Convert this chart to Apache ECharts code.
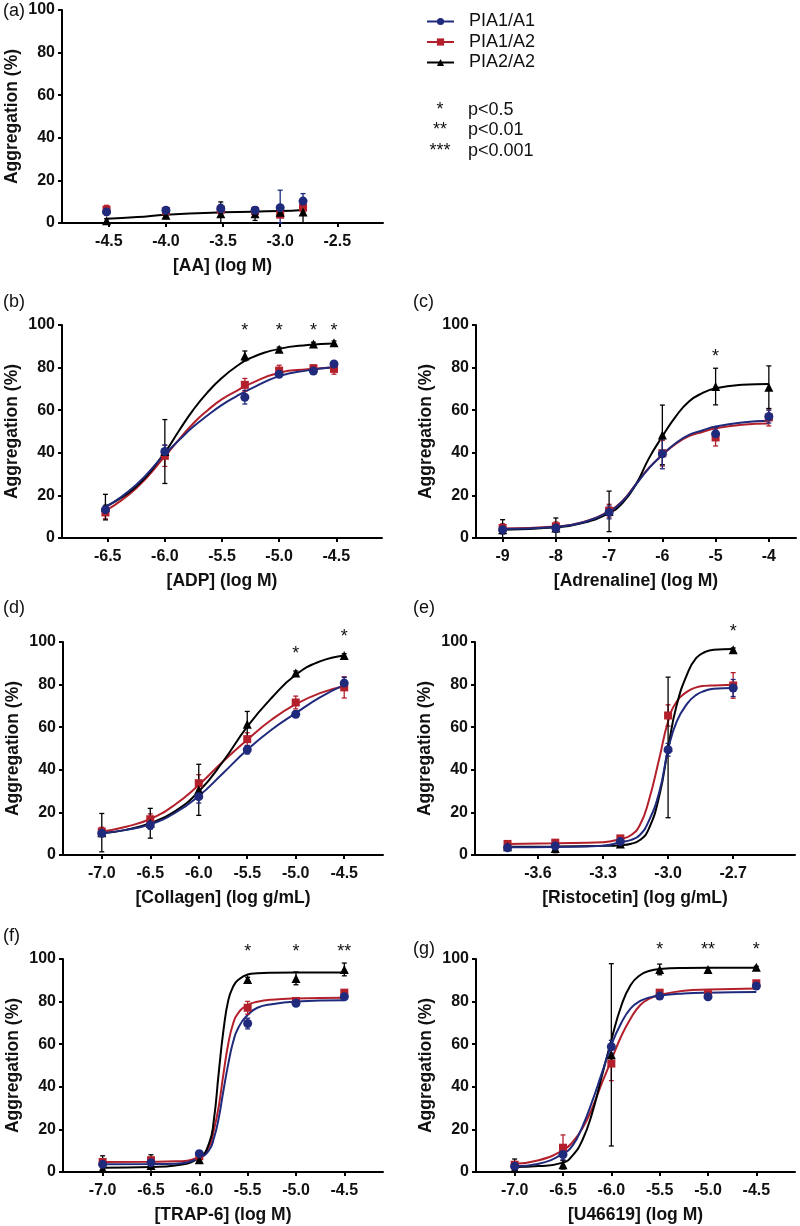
<!DOCTYPE html>
<html><head><meta charset="utf-8">
<script src="https://cdn.jsdelivr.net/npm/echarts@6/dist/echarts.min.js"></script>
<style>html,body{margin:0;padding:0;background:#fff}#chart{width:800px;height:1226px}</style>
</head><body><div id="chart"></div>
<script>
// ---------- DATA ----------
const genotypes = ['PIA1/A1', 'PIA1/A2', 'PIA2/A2'];
const sigSymbols = ['*', '**', '***'];
const sigTexts = ['p<0.5', 'p<0.01', 'p<0.001'];

// (a) AA
const aTicks = [-4.5, -4.0, -3.5, -3.0, -2.5];
const aX = [-4.52, -4.0, -3.52, -3.22, -3.0, -2.8];
const aA1A1 = [5.2, 6.0, 6.7, 6.0, 7.2, 10.3];
const aA1A2 = [6.3, 5.6, 6.3, 5.6, 3.9, 7.2];
const aA2A2 = [1.0, 3.6, 4.4, 4.4, 5.0, 5.2];
const aErrA1A1 = [1.5, 1.0, 2.0, 1.0, 8.2, 3.5];
const aErrA1A2 = [2.0, 1.0, 1.5, 1.5, 1.0, 2.5];
const aErrA2A2 = [1.0, 1.5, 5.5, 3.2, 2.0, 5.2];
const aFitX = [-4.52, -4.25, -4.0, -3.5, -3.0, -2.8];
const aFitA2A2 = [2.0, 2.8, 3.9, 5.0, 5.6, 6.1];
const aStarX = [], aStarY = [], aStars = [];

// (b) ADP
const bTicks = [-6.5, -6.0, -5.5, -5.0, -4.5];
const bX = [-6.52, -6.0, -5.3, -5.0, -4.7, -4.52];
const bA1A1 = [13.3, 40.6, 66.1, 76.9, 78.4, 81.7];
const bA1A2 = [12.0, 38.6, 71.9, 78.6, 79.7, 79.4];
const bA2A2 = [14.5, 40.6, 85.5, 88.6, 91.1, 91.7];
const bErrA1A1 = [2.0, 3.0, 3.2, 1.0, 1.5, 1.0];
const bErrA1A2 = [3.0, 5.0, 3.0, 2.5, 1.5, 2.5];
const bErrA2A2 = [6.0, 15.0, 2.3, 1.0, 0.8, 0.8];
const bFitX = [-6.52, -6.25, -6.0, -5.875, -5.75, -5.625, -5.5, -5.375, -5.25, -5.0, -4.75, -4.52];
const bFitA1A1 = [14.4, 25.0, 39.4, 46.0, 52.3, 57.6, 62.5, 66.5, 70.0, 76.0, 78.7, 80.2];
const bFitA1A2 = [12.8, 23.4, 38.3, 46.3, 53.9, 60.0, 65.2, 69.0, 72.5, 77.6, 79.2, 80.2];
const bFitA2A2 = [14.8, 24.2, 40.2, 50.5, 60.3, 68.5, 75.2, 80.5, 84.5, 88.8, 90.6, 91.3];
const bStarX = [-5.3, -5.0, -4.7, -4.52], bStarY = [99, 99, 99, 99], bStars = ['*', '*', '*', '*'];

// (c) Adrenaline
const cTicks = [-9, -8, -7, -6, -5, -4];
const cX = [-9, -8, -7, -6, -5, -4];
const cA1A1 = [3.9, 4.7, 12.0, 39.5, 48.9, 57.0];
const cA1A2 = [4.7, 5.5, 12.8, 39.8, 47.2, 56.6];
const cA2A2 = [3.9, 4.7, 12.5, 48.4, 71.1, 70.8];
const cErrA1A1 = [2.0, 2.0, 3.0, 7.0, 3.0, 3.0];
const cErrA1A2 = [2.0, 2.0, 3.0, 6.0, 4.0, 4.0];
const cErrA2A2 = [4.7, 4.7, 9.5, 14.0, 8.6, 10.0];
const cFitX = [-9, -8, -7.5, -7, -6.75, -6.5, -6.25, -6, -5.75, -5.5, -5.25, -5, -4.5, -4];
const cFitA1A1 = [4.2, 5.2, 7.3, 12.5, 17.2, 25.0, 32.8, 39.1, 44.5, 48.4, 50.5, 52.3, 54.2, 55.0];
const cFitA1A2 = [4.5, 5.4, 7.4, 12.6, 17.4, 25.2, 33.0, 39.0, 44.2, 47.8, 49.8, 51.5, 53.2, 53.8];
const cFitA2A2 = [3.9, 5.0, 7.0, 11.7, 16.4, 25.0, 37.5, 47.7, 57.0, 64.1, 68.0, 70.3, 71.9, 72.3];
const cStarX = [-5], cStarY = [87], cStars = ['*'];

// (d) Collagen
const dTicks = [-7.0, -6.5, -6.0, -5.5, -5.0, -4.5];
const dX = [-7, -6.5, -6, -5.5, -5, -4.5];
const dA1A1 = [10.2, 14.1, 27.4, 49.4, 66.1, 80.7];
const dA1A2 = [11.0, 16.8, 33.7, 54.4, 71.6, 78.7];
const dA2A2 = [10.5, 14.9, 30.6, 61.4, 85.4, 93.7];
const dErrA1A1 = [1.5, 2.0, 3.0, 2.0, 1.5, 2.7];
const dErrA1A2 = [2.0, 2.5, 4.0, 3.0, 3.0, 5.0];
const dErrA2A2 = [9.0, 7.0, 12.0, 6.0, 1.0, 0.8];
const dFitX = [-7, -6.75, -6.5, -6.25, -6, -5.75, -5.5, -5.25, -5, -4.75, -4.5];
const dFitA1A1 = [10.2, 11.8, 14.4, 19.6, 27.7, 38.4, 49.4, 58.8, 66.6, 74.0, 79.9];
const dFitA1A2 = [11.0, 13.3, 16.9, 23.5, 32.9, 43.9, 54.1, 63.5, 70.8, 76.0, 79.2];
const dFitA2A2 = [10.2, 11.8, 14.9, 20.4, 29.8, 43.9, 60.3, 73.7, 84.6, 90.9, 93.7];
const dStarX = [-5.0, -4.5], dStarY = [96.4, 104.2], dStars = ['*', '*'];

// (e) Ristocetin
const eTicks = [-3.6, -3.3, -3.0, -2.7];
const eX = [-3.74, -3.52, -3.22, -3.0, -2.7];
const eA1A1 = [3.4, 4.2, 6.3, 49.4, 78.4];
const eA1A2 = [5.2, 5.8, 7.8, 65.5, 79.6];
const eA2A2 = [3.9, 3.1, 5.2, 50.5, 96.4];
const eErrA1A1 = [0.8, 1.0, 1.0, 3.0, 4.0];
const eErrA1A2 = [0.8, 1.0, 1.0, 5.0, 6.0];
const eErrA2A2 = [0.8, 2.0, 1.0, 33.0, 0.8];
const eFitX = [-3.74, -3.52, -3.3, -3.22, -3.17, -3.13, -3.09, -3.04, -3.0, -2.96, -2.91, -2.87, -2.83, -2.79, -2.7];
const eFitA1A1 = [3.6, 3.8, 4.4, 6.0, 7.1, 9.4, 15.7, 29.8, 49.4, 62.7, 71.3, 75.2, 77.1, 78.1, 78.4];
const eFitA1A2 = [5.2, 5.5, 6.0, 7.5, 9.4, 14.1, 25.1, 45.5, 62.7, 72.1, 76.8, 78.7, 79.4, 79.6, 79.9];
const eFitA2A2 = [3.9, 4.0, 4.3, 4.6, 5.3, 7.0, 12.0, 28.0, 50.2, 70.5, 85.4, 92.5, 95.3, 96.4, 96.7];
const eStarX = [-2.7], eStarY = [106.6], eStars = ['*'];

// (f) TRAP-6
const fTicks = [-7.0, -6.5, -6.0, -5.5, -5.0, -4.5];
const fX = [-7, -6.5, -6, -5.5, -5, -4.5];
const fA1A1 = [3.6, 4.4, 8.6, 69.7, 79.2, 82.3];
const fA1A2 = [4.7, 5.5, 7.4, 77.1, 80.3, 84.2];
const fA2A2 = [1.6, 3.1, 5.8, 90.4, 90.9, 95.1];
const fErrA1A1 = [1.0, 1.0, 1.0, 2.5, 1.0, 1.0];
const fErrA1A2 = [1.5, 1.5, 1.0, 3.0, 1.0, 1.2];
const fErrA2A2 = [6.0, 5.0, 1.0, 1.0, 3.0, 3.0];
const fFitX = [-7, -6.5, -6.25, -6.0, -5.9, -5.85, -5.8, -5.75, -5.7, -5.65, -5.6, -5.5, -5.4, -5.25, -5.0, -4.5];
const fFitA1A1 = [3.6, 3.7, 3.9, 6.6, 10.2, 15.7, 25.1, 38.4, 50.9, 61.1, 67.4, 73.7, 77.1, 78.8, 80.0, 80.6];
const fFitA1A2 = [4.7, 4.8, 5.0, 7.1, 11.8, 19.6, 30.6, 46.2, 60.3, 69.7, 74.5, 78.4, 79.9, 80.9, 81.5, 81.8];
const fFitA2A2 = [2.0, 2.4, 3.1, 6.7, 13.3, 24.3, 46.2, 66.6, 80.7, 87.0, 90.1, 92.7, 93.3, 93.6, 93.7, 93.7];
const fStarX = [-5.5, -5.0, -4.5], fStarY = [105, 105, 105], fStars = ['*', '*', '**'];

// (g) U46619
const gTicks = [-7.0, -6.5, -6.0, -5.5, -5.0, -4.5];
const gX = [-7, -6.5, -6, -5.5, -5, -4.5];
const gA1A1 = [2.7, 8.2, 58.8, 82.6, 82.3, 87.3];
const gA1A2 = [3.4, 11.4, 50.9, 84.2, 83.5, 88.6];
const gA2A2 = [1.6, 3.4, 55.0, 95.1, 95.1, 96.1];
const gErrA1A1 = [1.0, 2.5, 3.0, 1.0, 1.0, 1.0];
const gErrA1A2 = [1.5, 6.0, 8.0, 1.0, 1.0, 1.0];
const gErrA2A2 = [4.5, 2.0, 42.8, 2.5, 0.8, 0.5];
const gFitX = [-7, -6.75, -6.5, -6.4, -6.3, -6.2, -6.1, -6.0, -5.9, -5.8, -5.7, -5.6, -5.5, -5.25, -5.0, -4.5];
const gFitA1A1 = [2.7, 3.9, 8.6, 12.5, 21.2, 32.9, 46.2, 59.6, 69.7, 76.8, 80.3, 82.0, 82.9, 83.8, 84.2, 84.5];
const gFitA1A2 = [3.9, 5.5, 10.2, 14.1, 20.4, 29.8, 41.5, 52.5, 63.5, 72.1, 78.4, 81.5, 83.1, 85.1, 85.7, 86.2];
const gFitA2A2 = [2.4, 2.8, 4.4, 7.8, 14.9, 27.4, 44.7, 61.9, 77.6, 87.8, 92.5, 94.5, 95.3, 95.8, 95.9, 95.9];
const gStarX = [-5.5, -5.0, -4.5], gStarY = [106, 106, 106], gStars = ['*', '**', '*'];

// ---------- LAYOUT / STYLE ----------
const COLORS = ['#1f2a7c', '#b3202c', '#000000'];
const SYMBOLS = ['circle', 'rect', 'triangle'];
const SIZES = [9, 8, 9];
const FONT = '"Liberation Sans", Arial, Helvetica, sans-serif';

const panels = [
  {label: '(a)', lx: 3, ly: 11, grid: {left: 62, top: 10, width: 321, height: 213}, min: -4.91, max: -2.1, ticks: aTicks, dec: 1, name: '[AA] (log M)',
   X: aX, Y: [aA1A1, aA1A2, aA2A2], E: [aErrA1A1, aErrA1A2, aErrA2A2], FX: aFitX, FY: [null, null, aFitA2A2], SX: aStarX, SY: aStarY, S: aStars},
  {label: '(b)', lx: 3, ly: 302, grid: {left: 62, top: 325, width: 320, height: 213}, min: -6.9, max: -4.1, ticks: bTicks, dec: 1, name: '[ADP] (log M)',
   X: bX, Y: [bA1A1, bA1A2, bA2A2], E: [bErrA1A1, bErrA1A2, bErrA2A2], FX: bFitX, FY: [bFitA1A1, bFitA1A2, bFitA2A2], SX: bStarX, SY: bStarY, S: bStars},
  {label: '(c)', lx: 413, ly: 302, grid: {left: 476, top: 325, width: 320, height: 213}, min: -9.5, max: -3.49, ticks: cTicks, dec: 0, name: '[Adrenaline] (log M)',
   X: cX, Y: [cA1A1, cA1A2, cA2A2], E: [cErrA1A1, cErrA1A2, cErrA2A2], FX: cFitX, FY: [cFitA1A1, cFitA1A2, cFitA2A2], SX: cStarX, SY: cStarY, S: cStars},
  {label: '(d)', lx: 3, ly: 608, grid: {left: 63, top: 642, width: 320, height: 213}, min: -7.4, max: -4.1, ticks: dTicks, dec: 1, name: '[Collagen] (log g/mL)',
   X: dX, Y: [dA1A1, dA1A2, dA2A2], E: [dErrA1A1, dErrA1A2, dErrA2A2], FX: dFitX, FY: [dFitA1A1, dFitA1A2, dFitA2A2], SX: dStarX, SY: dStarY, S: dStars},
  {label: '(e)', lx: 413, ly: 608, grid: {left: 475, top: 642, width: 320, height: 213}, min: -3.89, max: -2.415, ticks: eTicks, dec: 1, name: '[Ristocetin] (log g/mL)',
   X: eX, Y: [eA1A1, eA1A2, eA2A2], E: [eErrA1A1, eErrA1A2, eErrA2A2], FX: eFitX, FY: [eFitA1A1, eFitA1A2, eFitA2A2], SX: eStarX, SY: eStarY, S: eStars},
  {label: '(f)', lx: 3, ly: 936, grid: {left: 63, top: 959, width: 320, height: 213}, min: -7.41, max: -4.1, ticks: fTicks, dec: 1, name: '[TRAP-6] (log M)',
   X: fX, Y: [fA1A1, fA1A2, fA2A2], E: [fErrA1A1, fErrA1A2, fErrA2A2], FX: fFitX, FY: [fFitA1A1, fFitA1A2, fFitA2A2], SX: fStarX, SY: fStarY, S: fStars},
  {label: '(g)', lx: 413, ly: 949, grid: {left: 476, top: 959, width: 319, height: 213}, min: -7.4, max: -4.1, ticks: gTicks, dec: 1, name: '[U46619] (log M)',
   X: gX, Y: [gA1A1, gA1A2, gA2A2], E: [gErrA1A1, gErrA1A2, gErrA2A2], FX: gFitX, FY: [gFitA1A1, gFitA1A2, gFitA2A2], SX: gStarX, SY: gStarY, S: gStars}
];

const grids = [], xAxes = [], yAxes = [], series = [], graphics = [];

// legend entries
genotypes.forEach((g, k) => {
  series.push({name: g, type: 'line', data: [], symbol: SYMBOLS[k], symbolSize: 7,
    itemStyle: {color: COLORS[k]}, lineStyle: {color: COLORS[k], width: 2}});
});

function errorSeries(gi, X, Y, E, color, z) {
  return {
    name: 'err', type: 'custom', xAxisIndex: gi, yAxisIndex: gi, z: z, silent: true, clip: false,
    data: X.map((x, i) => [x, Y[i], E[i]]),
    encode: {x: 0, y: 1},
    renderItem: function (params, api) {
      const x = api.value(0), y = api.value(1), e = api.value(2);
      const hi = api.coord([x, y + e]);
      const lo = api.coord([x, Math.max(0, y - e)]);
      const w = 2.5;
      const st = {stroke: color, lineWidth: 1.3};
      return {type: 'group', children: [
        {type: 'line', shape: {x1: hi[0], y1: hi[1], x2: lo[0], y2: lo[1]}, style: st},
        {type: 'line', shape: {x1: hi[0] - w, y1: hi[1], x2: hi[0] + w, y2: hi[1]}, style: st},
        {type: 'line', shape: {x1: lo[0] - w, y1: lo[1], x2: lo[0] + w, y2: lo[1]}, style: st}
      ]};
    }
  };
}

// drawing order: red (1), black (2), blue (0) on top
const ORDER = [1, 2, 0];

panels.forEach((p, gi) => {
  grids.push(Object.assign({containLabel: false}, p.grid));
  xAxes.push({
    gridIndex: gi, type: 'value', min: p.min, max: p.max,
    name: p.name, nameLocation: 'middle', nameGap: 34,
    nameTextStyle: {fontFamily: FONT, fontWeight: 'bold', fontSize: 17.5, color: '#111'},
    axisLine: {onZero: false, lineStyle: {color: '#000', width: 2}},
    axisTick: {show: true, length: 4, lineStyle: {color: '#000', width: 2}, customValues: p.ticks},
    axisLabel: {customValues: p.ticks, margin: 11, fontFamily: FONT, fontWeight: 'bold', fontSize: 16, color: '#111',
      formatter: v => Number(v).toFixed(p.dec)},
    splitLine: {show: false}
  });
  yAxes.push({
    gridIndex: gi, type: 'value', min: 0, max: 100, interval: 20,
    name: 'Aggregation (%)', nameLocation: 'middle', nameGap: 41,
    nameTextStyle: {fontFamily: FONT, fontWeight: 'bold', fontSize: 17.5, color: '#111'},
    axisLine: {show: true, lineStyle: {color: '#000', width: 2}},
    axisTick: {show: true, length: 4, lineStyle: {color: '#000', width: 2}},
    axisLabel: {margin: 7, fontFamily: FONT, fontWeight: 'bold', fontSize: 16, color: '#111'},
    splitLine: {show: false}
  });

  // fitted curves
  ORDER.forEach(k => {
    if (!p.FY[k]) return;
    series.push({
      name: 'fit', type: 'line', xAxisIndex: gi, yAxisIndex: gi, silent: true,
      data: p.FX.map((x, i) => [x, p.FY[k][i]]),
      showSymbol: false, symbol: 'none', smooth: 0.5,
      lineStyle: {color: COLORS[k], width: 2}, z: 2
    });
  });
  // error bars + points
  ORDER.forEach((k, oi) => {
    series.push(errorSeries(gi, p.X, p.Y[k], p.E[k], COLORS[k], 3 + oi));
  });
  ORDER.forEach((k, oi) => {
    series.push({
      name: 'pts', type: 'scatter', xAxisIndex: gi, yAxisIndex: gi, silent: true,
      data: p.X.map((x, i) => [x, p.Y[k][i]]),
      symbol: SYMBOLS[k], symbolSize: SIZES[k],
      itemStyle: {color: COLORS[k], opacity: 1}, z: 6 + oi
    });
  });
  // significance stars
  if (p.SX.length) {
    series.push({
      name: 'stars', type: 'custom', xAxisIndex: gi, yAxisIndex: gi, silent: true, clip: false, z: 10,
      data: p.SX.map((x, i) => [x, p.SY[i], p.S[i]]),
      encode: {x: 0, y: 1},
      renderItem: function (params, api) {
        const i = params.dataIndex;
        const pt = api.coord([p.SX[i], p.SY[i]]);
        return {type: 'text', x: pt[0], y: pt[1] + 4,
          style: {text: p.S[i], font: '18px ' + FONT, fill: '#111', textAlign: 'center', textVerticalAlign: 'middle'}};
      }
    });
  }
  graphics.push({type: 'text', x: p.lx, y: p.ly,
    style: {text: p.label, font: '18px ' + FONT, fill: '#111', textAlign: 'left', textVerticalAlign: 'middle'}});
});

// significance key
sigSymbols.forEach((s, i) => {
  const y = 110 + i * 20.3;
  graphics.push({type: 'text', x: 440, y: y,
    style: {text: s, font: '18px ' + FONT, fill: '#111', textAlign: 'center', textVerticalAlign: 'middle'}});
  graphics.push({type: 'text', x: 468, y: y,
    style: {text: sigTexts[i], font: '18px ' + FONT, fill: '#111', textAlign: 'left', textVerticalAlign: 'middle'}});
});

const chart = echarts.init(document.getElementById('chart'), null, {renderer: 'canvas'});
chart.setOption({
  animation: false,
  backgroundColor: '#fff',
  legend: {
    data: genotypes, orient: 'vertical', left: 426, top: 12.5, padding: 0,
    itemWidth: 27, itemHeight: 9, itemGap: 2.5, selectedMode: false,
    textStyle: {fontFamily: FONT, fontSize: 18, color: '#111', lineHeight: 18, padding: [0, 0, 0, 10]}
  },
  grid: grids, xAxis: xAxes, yAxis: yAxes, series: series, graphic: graphics
});
</script></body></html>
